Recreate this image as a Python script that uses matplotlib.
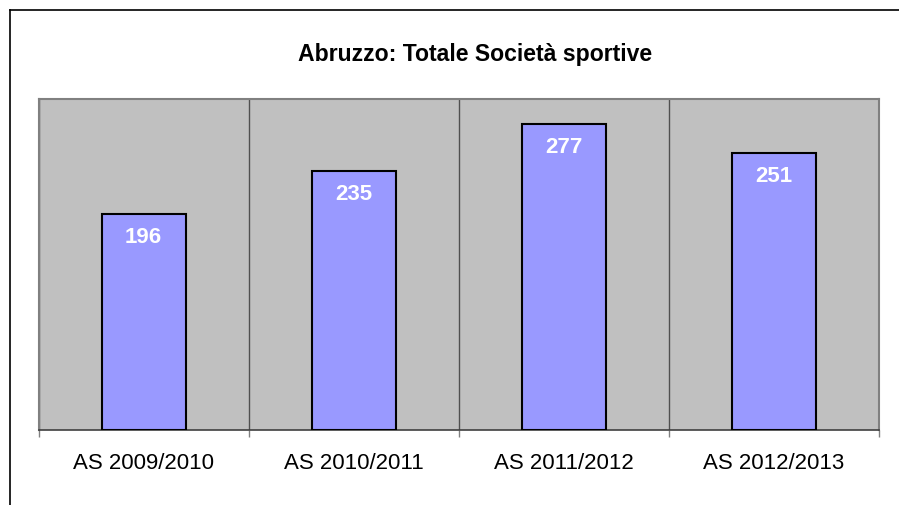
import matplotlib.pyplot as plt
from matplotlib.lines import Line2D

plt.rcParams['font.family'] = ['Liberation Sans', 'DejaVu Sans']

# Dati: totale società sportive in Abruzzo per anno sportivo
categories = ['AS 2009/2010', 'AS 2010/2011', 'AS 2011/2012', 'AS 2012/2013']
values = [196, 235, 277, 251]
title = 'Abruzzo: Totale Società sportive'

W, H = 899, 505
fig = plt.figure(figsize=(W / 100, H / 100), dpi=100)

# plot area in pixel coords
left, right, top, bottom = 38.5, 879, 99, 430
ax = fig.add_axes([left / W, 1 - bottom / H, (right - left) / W, (bottom - top) / H])
ax.set_facecolor('#C0C0C0')

x = list(range(len(categories)))
bars = ax.bar(x, values, width=0.4, color='#9999FF', edgecolor='black', linewidth=1.5, zorder=3)

ax.set_xlim(-0.5, len(categories) - 0.5)
ax.set_ylim(0, 300)

# category labels and separators
ax.set_xticks(x)
ax.set_xticklabels(categories, fontsize=16)
ax.tick_params(axis='x', which='major', length=0, pad=16.5)
ax.set_xticks([i - 0.5 for i in range(len(categories) + 1)], minor=True)
ax.tick_params(axis='x', which='minor', length=5, width=1, color='#808080')
ax.grid(axis='x', which='minor', color='#505050', linewidth=1, zorder=1)
ax.set_yticks([])

for side in ['left', 'top', 'right']:
    ax.spines[side].set_color('#808080')
    ax.spines[side].set_linewidth(1.5)
ax.spines['bottom'].set_color('#404040')
ax.spines['bottom'].set_linewidth(1.2)

# value labels inside bars
for bar, v in zip(bars, values):
    ax.annotate(str(v), (bar.get_x() + bar.get_width() / 2, v),
                xytext=(0, -17), textcoords='offset points',
                ha='center', va='center', color='white',
                fontsize=16, fontweight='bold', zorder=4)

fig.text(475 / W, 1 - 54 / H, title, ha='center', va='center',
         fontsize=16.6, fontweight='bold')

# chart frame (cut off at right and bottom)
fig.add_artist(Line2D([10 / W, 10 / W], [0, 1 - 10 / H], color='black', linewidth=1.2))
fig.add_artist(Line2D([10 / W, 1], [1 - 10 / H, 1 - 10 / H], color='black', linewidth=1.2))

fig.savefig('out.png', dpi=100)
